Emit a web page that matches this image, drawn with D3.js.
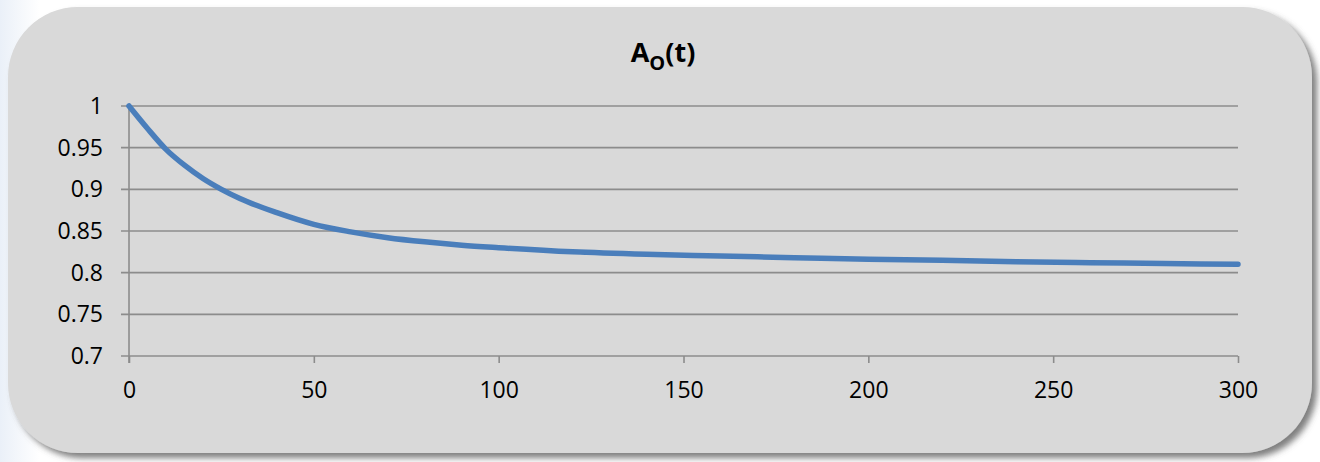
<!DOCTYPE html>
<html>
<head>
<meta charset="utf-8">
<script src="https://cdn.jsdelivr.net/npm/d3@7"></script>
<style>
  body { margin: 0; background: #ffffff; }
  .grid line { stroke: #8c8c8c; stroke-width: 1.6; }
  .axis path, .axis line { stroke: #8c8c8c; stroke-width: 1.6; }
</style>
</head>
<body>
<script>
// time (x) and A_O(t) values
var times = [0, 5, 10, 15, 20, 25, 30, 40, 50, 60, 70, 80, 90, 100, 120, 140, 160, 180, 200, 220, 240, 260, 280, 300];
var availability = [1, 0.973, 0.948, 0.929, 0.913, 0.9, 0.889, 0.872, 0.858, 0.849, 0.842, 0.837, 0.833, 0.83, 0.825, 0.822, 0.82, 0.818, 0.816, 0.815, 0.813, 0.812, 0.811, 0.81];
var xTicks = [0, 50, 100, 150, 200, 250, 300];
var yTicks = [0.7, 0.75, 0.8, 0.85, 0.9, 0.95, 1];

var dataset = times.map(function(t, i){
  return { t: t, a: availability[i] };
});

var w = 1320;
var h = 462;

var svg = d3.select('body')
  .append('svg')
  .attr('width', w)
  .attr('height', h);

var defs = svg.append('defs');
var shadow = defs.append('filter')
  .attr('id', 'shadow')
  .attr('x', '-5%').attr('y', '-5%')
  .attr('width', '110%').attr('height', '115%');
shadow.append('feDropShadow')
  .attr('dx', 5).attr('dy', 5)
  .attr('stdDeviation', 3)
  .attr('flood-color', '#555')
  .attr('flood-opacity', 0.75);

var bg = defs.append('linearGradient')
  .attr('id', 'bg')
  .attr('x1', 0).attr('x2', 1).attr('y1', 0).attr('y2', 0);
bg.append('stop').attr('offset', 0).attr('stop-color', '#eaf0f8');
bg.append('stop').attr('offset', 0.03).attr('stop-color', '#ffffff');

svg.append('rect')
  .attr('width', w).attr('height', h)
  .attr('fill', 'url(#bg)');

// rounded panel
svg.append('rect')
  .attr('x', 8)
  .attr('y', 7)
  .attr('width', 1304)
  .attr('height', 446)
  .attr('rx', 70)
  .attr('ry', 70)
  .attr('fill', '#d9d9d9')
  .attr('filter', 'url(#shadow)');

var xScale = d3.scaleLinear()
  .domain([0, 300])
  .range([129, 1238]);

var yScale = d3.scaleLinear()
  .domain([0.7, 1])
  .range([356, 106]);

// gridlines
svg.append('g')
  .attr('class', 'grid')
  .selectAll('line')
  .data(yTicks)
  .enter()
  .append('line')
  .attr('x1', 121)
  .attr('x2', xScale(300))
  .attr('y1', function(d){ return yScale(d); })
  .attr('y2', function(d){ return yScale(d); });

var xAxis = d3.axisBottom(xScale)
  .tickValues(xTicks)
  .tickSize(7)
  .tickSizeOuter(0)
  .tickPadding(19)
  .tickFormat(d3.format('d'));

var yAxis = d3.axisLeft(yScale)
  .tickValues(yTicks)
  .tickSize(0)
  .tickSizeOuter(0)
  .tickPadding(26)
  .tickFormat(function(d){ return String(+d.toFixed(2)); });

var gx = svg.append('g')
  .attr('class', 'axis')
  .attr('transform', 'translate(0,' + yScale(0.7) + ')')
  .call(xAxis);
gx.select('.domain').remove();

var gy = svg.append('g')
  .attr('class', 'axis')
  .attr('transform', 'translate(' + xScale(0) + ',0)')
  .call(yAxis);
gy.select('.domain')
  .attr('d', 'M0,' + yScale(1) + 'V' + (yScale(0.7) + 7));

svg.selectAll('.axis')
  .attr('font-family', 'Open Sans, sans-serif')
  .attr('font-size', 23);
svg.selectAll('.axis text')
  .attr('fill', '#000')
  .attr('font-size', 23);

var line = d3.line()
  .x(function(d){ return xScale(d.t); })
  .y(function(d){ return yScale(d.a); })
  .curve(d3.curveMonotoneX);

svg.append('path')
  .datum(dataset)
  .attr('d', line)
  .attr('fill', 'none')
  .attr('stroke', '#4a7ebb')
  .attr('stroke-width', 5.5)
  .attr('stroke-linecap', 'round');

// title A_O(t)
var title = svg.append('text')
  .attr('x', 663)
  .attr('y', 62)
  .attr('text-anchor', 'middle')
  .attr('font-family', 'Open Sans, sans-serif')
  .attr('font-weight', 'bold')
  .attr('font-size', '27px')
  .attr('fill', '#000');
title.append('tspan').text('A');
title.append('tspan').attr('font-size', '20px').attr('dy', 8).text('O');
title.append('tspan').attr('dy', -8).text('(t)');
</script>
</body>
</html>
